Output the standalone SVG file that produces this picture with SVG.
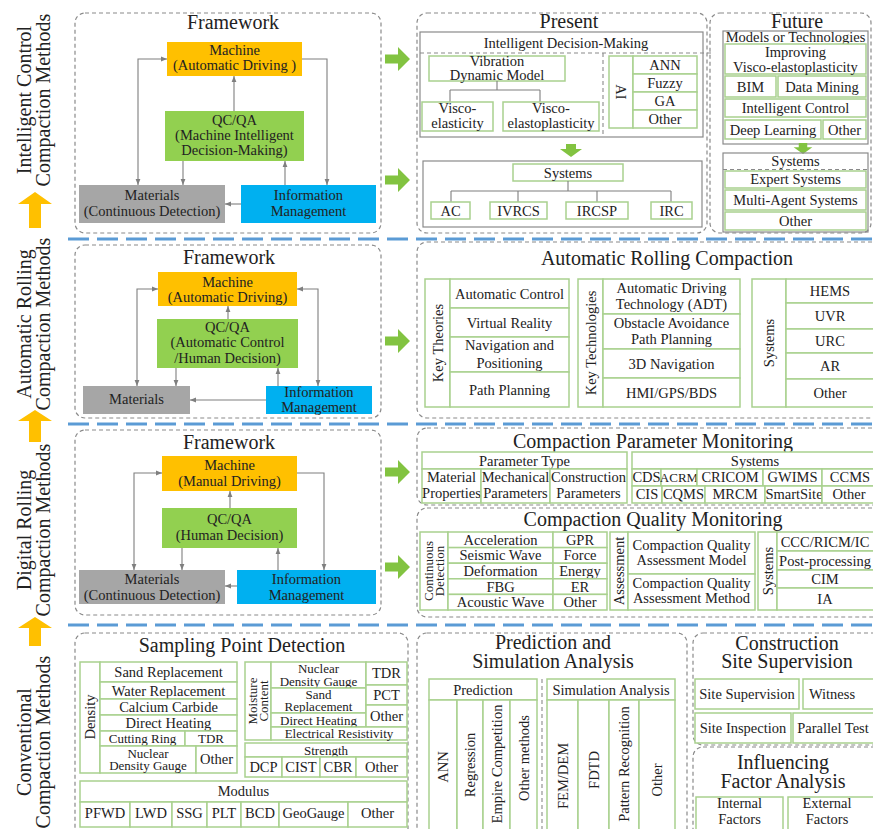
<svg xmlns="http://www.w3.org/2000/svg" width="873" height="829" viewBox="0 0 873 829">
<style>
text{font-family:"Liberation Serif","Times New Roman",serif;font-size:14.5px;fill:#222;text-anchor:middle}
.h{font-size:20px}
.s{font-size:13px}
.db{fill:none;stroke:#8a8a8a;stroke-width:1.2;stroke-dasharray:4 3}
.c{fill:#fff;stroke:#a9d18e;stroke-width:1.5}
.g{fill:none;stroke:#8a8a8a;stroke-width:1.2}
.dl{fill:none;stroke:#8a8a8a;stroke-width:1.1;stroke-dasharray:4 3}
.cn{fill:none;stroke:#7f7f7f;stroke-width:1.1}
.sep{fill:none;stroke:#5b9bd5;stroke-width:3;stroke-dasharray:21 8}
.mach{fill:#ffc000}.qc{fill:#92d050}.mat{fill:#a6a6a6}.inf{fill:#00b0f0}
.ga{fill:#82c341}.oa{fill:#ffc000}
</style>
<defs>
<marker id="ah" viewBox="0 0 10 10" refX="10" refY="5" markerWidth="6" markerHeight="6" markerUnits="userSpaceOnUse" orient="auto-start-reverse"><path d="M0,1 L10,5 L0,9 Z" fill="#7f7f7f"/></marker>
<path id="gar" d="M0,-4.5 H13 V-12 L25,0 L13,12 V4.5 H0 Z"/>
<path id="gad" d="M-5,0 H5 V5 H11 L0,13 L-11,5 H-5 Z"/>
</defs>
<rect width="873" height="829" fill="#fff"/>

<g id="separators">
<path class="sep" d="M68,239 H873 M68,424 H873 M68,625 H873"/>
</g>

<g id="side-labels">
<text class="h" transform="translate(0,100) rotate(-90)"><tspan x="0" y="31">Intelligent Control</tspan><tspan x="0" y="49.5">Compaction Methods</tspan></text>
<path class="oa" d="M35,192 L52,204 H41 V228 H29 V204 H18 Z"/>
<text class="h" transform="translate(0,324) rotate(-90)"><tspan x="0" y="31">Automatic Rolling</tspan><tspan x="0" y="49.5">Compaction Methods</tspan></text>
<path class="oa" d="M35,410 L52,421 H41 V442 H29 V421 H18 Z"/>
<text class="h" transform="translate(0,530) rotate(-90)"><tspan x="0" y="31">Digital Rolling</tspan><tspan x="0" y="49.5">Compaction Methods</tspan></text>
<path class="oa" d="M35,617 L52,628 H41 V646 H29 V628 H18 Z"/>
<text class="h" transform="translate(0,742) rotate(-90)"><tspan x="0" y="31">Conventional</tspan><tspan x="0" y="49.5">Compaction Methods</tspan></text>
</g>

<g id="fw1">
<rect class="db" x="75" y="13" width="306" height="220" rx="10"/>
<text class="h" x="233" y="29">Framework</text>
</g>
<g id="fw1-machine"><rect class="mach" x="167" y="42" width="135" height="34"/><text x="234.5" y="55">Machine</text><text x="234.5" y="70">(Automatic Driving )</text></g>
<g id="fw1-qc"><rect class="qc" x="165" y="111" width="139" height="50"/><text x="234.5" y="125">QC/QA</text><text x="234.5" y="140">(Machine Intelligent</text><text x="234.5" y="155">Decision-Making)</text></g>
<g id="fw1-mat"><rect class="mat" x="79" y="185" width="146" height="38"/><text x="152" y="200">Materials</text><text x="152" y="216">(Continuous Detection)</text></g>
<g id="fw1-info"><rect class="inf" x="241" y="185" width="135" height="38"/><text x="308.5" y="200">Information</text><text x="308.5" y="216">Management</text></g>
<g id="fw1-connectors">
<path class="cn" d="M138,185 V59 H167" marker-start="url(#ah)" marker-end="url(#ah)"/>
<path class="cn" d="M302,59 H327 V185" marker-end="url(#ah)"/>
<path class="cn" d="M234,111 V76" marker-end="url(#ah)"/>
<path class="cn" d="M183,161 V185" marker-end="url(#ah)"/>
<path class="cn" d="M285,185 V161" marker-end="url(#ah)"/>
<path class="cn" d="M241,204 H225" marker-end="url(#ah)"/>
</g>
<g id="green-arrows" class="ga">
<use href="#gar" x="385" y="59"/>
<use href="#gar" x="385" y="180"/>
<use href="#gar" x="385" y="341"/>
<use href="#gar" x="385" y="472"/>
<use href="#gar" x="385" y="567"/>
</g>

<g id="present">
<rect class="db" x="417" y="13" width="290" height="220" rx="10"/>
<text class="h" x="569" y="28">Present</text>
<rect class="g" x="420" y="32" width="283" height="105"/>
<text x="566" y="48">Intelligent Decision-Making</text>
<path class="dl" d="M420,53 H712 M603,53 V137"/>
<rect class="c" x="429" y="56" width="136" height="25"/>
<text x="497" y="66">Vibration</text><text x="497" y="80">Dynamic Model</text>
<path class="cn" d="M497,81 V90 M450,90 H540 M450,90 V102 M540,90 V102"/>
<rect class="c" x="422" y="102" width="71" height="29"/>
<text x="457.5" y="113">Visco-</text><text x="457.5" y="128">elasticity</text>
<rect class="c" x="503" y="102" width="96" height="29"/>
<text x="551" y="113">Visco-</text><text x="551" y="128">elastoplasticity</text>
<rect class="c" x="609" y="56" width="24" height="72"/>
<text transform="translate(621,92) rotate(90)" x="0" y="5">AI</text>
<rect class="c" x="633" y="56" width="64" height="18"/><text x="665" y="70">ANN</text>
<rect class="c" x="633" y="74" width="64" height="18"/><text x="665" y="88">Fuzzy</text>
<rect class="c" x="633" y="92" width="64" height="18"/><text x="665" y="106">GA</text>
<rect class="c" x="633" y="110" width="64" height="18"/><text x="665" y="124">Other</text>
<use href="#gad" x="571" y="144" class="ga"/>
<rect class="g" x="423" y="161" width="279" height="66"/>
<rect class="c" x="513" y="164" width="110" height="17"/><text x="568" y="177.5">Systems</text>
<path class="cn" d="M568,181 V191 M451,191 H671 M451,191 V202 M518,191 V202 M597,191 V202 M671,191 V202"/>
<rect class="c" x="431" y="202" width="39" height="17"/><text x="450.5" y="215.5">AC</text>
<rect class="c" x="490" y="202" width="57" height="17"/><text x="518.5" y="215.5">IVRCS</text>
<rect class="c" x="566" y="202" width="62" height="17"/><text x="597" y="215.5">IRCSP</text>
<rect class="c" x="651" y="202" width="41" height="17"/><text x="671.5" y="215.5">IRC</text>
</g>

<g id="future">
<rect class="db" x="710" y="13" width="161" height="220" rx="10"/>
<text class="h" x="797" y="28">Future</text>
<rect class="g" x="723" y="31" width="145" height="113"/>
<text x="795.5" y="41.5">Models or Technologies</text>
<rect class="c" x="725" y="44" width="141" height="30"/>
<text x="795.5" y="57">Improving</text><text x="795.5" y="71.5">Visco-elastoplasticity</text>
<rect class="c" x="725" y="76" width="51" height="21"/><text x="750.5" y="91.5">BIM</text>
<rect class="c" x="778" y="76" width="88" height="21"/><text x="822" y="91.5">Data Mining</text>
<rect class="c" x="725" y="99" width="141" height="18"/><text x="795.5" y="112.5">Intelligent Control</text>
<rect class="c" x="725" y="120" width="96" height="19"/><text x="773" y="134.5">Deep Learning</text>
<rect class="c" x="823" y="120" width="43" height="19"/><text x="844.5" y="134.5">Other</text>
<use href="#gad" x="803" y="143" class="ga" transform="translate(803,143) scale(0.85) translate(-803,-143)"/>
<rect class="g" x="723" y="153" width="145" height="79"/>
<text x="795.5" y="166">Systems</text>
<path class="dl" d="M723,169.5 H868"/>
<rect class="c" x="725" y="171" width="141" height="17"/><text x="795.5" y="184">Expert Systems</text>
<rect class="c" x="725" y="190" width="141" height="20"/><text x="795.5" y="205">Multi-Agent Systems</text>
<rect class="c" x="725" y="212" width="141" height="18"/><text x="795.5" y="226">Other</text>
</g>

<g id="fw2">
<rect class="db" x="75" y="245" width="306" height="173" rx="10"/>
<text class="h" x="229" y="264">Framework</text>
</g>
<g id="fw2-machine"><rect class="mach" x="158" y="272" width="139" height="34"/><text x="227.5" y="287">Machine</text><text x="227.5" y="302">(Automatic Driving)</text></g>
<g id="fw2-qc"><rect class="qc" x="157" y="319" width="141" height="49"/><text x="227.5" y="332">QC/QA</text><text x="227.5" y="347">(Automatic Control</text><text x="227.5" y="363">/Human Decision)</text></g>
<g id="fw2-mat"><rect class="mat" x="83" y="386" width="107" height="28"/><text x="136.5" y="404">Materials</text></g>
<g id="fw2-info"><rect class="inf" x="266" y="386" width="106" height="28"/><text x="319" y="397">Information</text><text x="319" y="411.5">Management</text></g>
<g id="fw2-connectors">
<path class="cn" d="M137,386 V289 H158" marker-start="url(#ah)" marker-end="url(#ah)"/>
<path class="cn" d="M297,289 H318 V386" marker-start="url(#ah)" marker-end="url(#ah)"/>
<path class="cn" d="M228,319 V306" marker-end="url(#ah)"/>
<path class="cn" d="M176,368 V386" marker-end="url(#ah)"/>
<path class="cn" d="M278,386 V368" marker-end="url(#ah)"/>
<path class="cn" d="M266,400 H190" marker-end="url(#ah)"/>
</g>

<g id="arc">
<rect class="db" x="417" y="242" width="470" height="176" rx="10"/>
<text class="h" x="667" y="265">Automatic Rolling Compaction</text>
<rect class="c" x="425" y="279" width="25" height="128"/>
<text transform="translate(437.5,343) rotate(-90)" x="0" y="5">Key Theories</text>
<rect class="c" x="450" y="279" width="119" height="29"/><text x="509.5" y="298.5">Automatic Control</text>
<rect class="c" x="450" y="308" width="119" height="29"/><text x="509.5" y="327.5">Virtual Reality</text>
<rect class="c" x="450" y="337" width="119" height="35"/><text x="509.5" y="350">Navigation and</text><text x="509.5" y="368">Positioning</text>
<rect class="c" x="450" y="372" width="119" height="35"/><text x="509.5" y="394.5">Path Planning</text>
<rect class="c" x="578" y="279" width="25" height="128"/>
<text transform="translate(590.5,343) rotate(-90)" x="0" y="5">Key Technologies</text>
<rect class="c" x="603" y="279" width="137" height="35"/><text x="671.5" y="293">Automatic Driving</text><text x="671.5" y="308.5">Technology (ADT)</text>
<rect class="c" x="603" y="314" width="137" height="35"/><text x="671.5" y="328">Obstacle Avoidance</text><text x="671.5" y="343.5">Path Planning</text>
<rect class="c" x="603" y="349" width="137" height="29"/><text x="671.5" y="368.5">3D Navigation</text>
<rect class="c" x="603" y="378" width="137" height="29"/><text x="671.5" y="397.5">HMI/GPS/BDS</text>
<rect class="c" x="752" y="279" width="34" height="128"/>
<text transform="translate(769,343) rotate(-90)" x="0" y="5">Systems</text>
<rect class="c" x="786" y="279" width="100" height="24"/><text x="830" y="296">HEMS</text>
<rect class="c" x="786" y="303" width="100" height="26"/><text x="830" y="321">UVR</text>
<rect class="c" x="786" y="329" width="100" height="24"/><text x="830" y="346">URC</text>
<rect class="c" x="786" y="353" width="100" height="26"/><text x="830" y="371">AR</text>
<rect class="c" x="786" y="379" width="100" height="28"/><text x="830" y="398">Other</text>
</g>

<g id="fw3">
<rect class="db" x="75" y="430" width="306" height="185" rx="10"/>
<text class="h" x="229" y="449">Framework</text>
</g>
<g id="fw3-machine"><rect class="mach" x="162" y="456" width="135" height="35"/><text x="229.5" y="470">Machine</text><text x="229.5" y="486">(Manual Driving)</text></g>
<g id="fw3-qc"><rect class="qc" x="162" y="508" width="135" height="40"/><text x="229.5" y="524">QC/QA</text><text x="229.5" y="540">(Human Decision)</text></g>
<g id="fw3-mat"><rect class="mat" x="79" y="570" width="146" height="34"/><text x="152" y="584">Materials</text><text x="152" y="600">(Continuous Detection)</text></g>
<g id="fw3-info"><rect class="inf" x="237" y="570" width="139" height="34"/><text x="306.5" y="584">Information</text><text x="306.5" y="600">Management</text></g>
<g id="fw3-connectors">
<path class="cn" d="M134,570 V473 H162" marker-start="url(#ah)" marker-end="url(#ah)"/>
<path class="cn" d="M297,473 H324 V570" marker-end="url(#ah)"/>
<path class="cn" d="M230,508 V491" marker-end="url(#ah)"/>
<path class="cn" d="M182,548 V570" marker-end="url(#ah)"/>
<path class="cn" d="M278,570 V548" marker-end="url(#ah)"/>
<path class="cn" d="M237,586 H225" marker-end="url(#ah)"/>
</g>

<g id="cpm">
<rect class="db" x="417" y="428" width="470" height="77" rx="10"/>
<text class="h" x="653" y="448">Compaction Parameter Monitoring</text>
<rect class="c" x="422" y="452" width="205" height="17"/><text x="524.5" y="465.5">Parameter Type</text>
<rect class="c" x="422" y="469" width="59" height="34"/><text x="451.5" y="482">Material</text><text x="451.5" y="498">Properties</text>
<rect class="c" x="481" y="469" width="69" height="34"/><text x="515.5" y="482">Mechanical</text><text x="515.5" y="498">Parameters</text>
<rect class="c" x="550" y="469" width="77" height="34"/><text x="588.5" y="482">Construction</text><text x="588.5" y="498">Parameters</text>
<rect class="c" x="632" y="452" width="254" height="17"/><text x="755" y="465.5">Systems</text>
<rect class="c" x="632" y="469" width="29" height="17"/><text x="646.5" y="482">CDS</text>
<rect class="c" x="661" y="469" width="36" height="17"/><text class="s" x="679" y="482">ACRM</text>
<rect class="c" x="697" y="469" width="66" height="17"/><text x="730" y="482">CRICOM</text>
<rect class="c" x="763" y="469" width="59" height="17"/><text x="792.5" y="482">GWIMS</text>
<rect class="c" x="822" y="469" width="64" height="17"/><text x="850" y="482">CCMS</text>
<rect class="c" x="632" y="486" width="30" height="17"/><text x="647" y="499">CIS</text>
<rect class="c" x="662" y="486" width="43" height="17"/><text x="683.5" y="499">CQMS</text>
<rect class="c" x="705" y="486" width="60" height="17"/><text x="735" y="499">MRCM</text>
<rect class="c" x="765" y="486" width="57" height="17"/><text x="794" y="499">SmartSite</text>
<rect class="c" x="822" y="486" width="64" height="17"/><text x="849" y="499">Other</text>
</g>

<g id="cqm">
<rect class="db" x="417" y="508" width="470" height="109" rx="10"/>
<text class="h" x="653" y="526">Compaction Quality Monitoring</text>
<rect class="c" x="420" y="532" width="28" height="78"/>
<text class="s" transform="translate(434,571) rotate(-90)"><tspan x="0" y="-1.5">Continuous</tspan><tspan x="0" y="10">Detection</tspan></text>
<rect class="c" x="448" y="532" width="105" height="15.6"/><text x="500.5" y="544.8">Acceleration</text>
<rect class="c" x="448" y="547.6" width="105" height="15.6"/><text x="500.5" y="560.4">Seismic Wave</text>
<rect class="c" x="448" y="563.2" width="105" height="15.6"/><text x="500.5" y="576">Deformation</text>
<rect class="c" x="448" y="578.8" width="105" height="15.6"/><text x="500.5" y="591.6">FBG</text>
<rect class="c" x="448" y="594.4" width="105" height="15.6"/><text x="500.5" y="607.2">Acoustic Wave</text>
<rect class="c" x="553" y="532" width="54" height="15.6"/><text x="580" y="544.8">GPR</text>
<rect class="c" x="553" y="547.6" width="54" height="15.6"/><text x="580" y="560.4">Force</text>
<rect class="c" x="553" y="563.2" width="54" height="15.6"/><text x="580" y="576">Energy</text>
<rect class="c" x="553" y="578.8" width="54" height="15.6"/><text x="580" y="591.6">ER</text>
<rect class="c" x="553" y="594.4" width="54" height="15.6"/><text x="580" y="607.2">Other</text>
<rect class="c" x="610" y="532" width="18" height="78"/>
<text transform="translate(619,571) rotate(-90)" x="0" y="5">Assessment</text>
<rect class="c" x="628" y="532" width="127" height="42"/><text x="691.5" y="550">Compaction Quality</text><text x="691.5" y="565">Assessment Model</text>
<rect class="c" x="628" y="574" width="127" height="36"/><text x="691.5" y="588">Compaction Quality</text><text x="691.5" y="603">Assessment Method</text>
<rect class="c" x="758" y="532" width="19" height="78"/>
<text transform="translate(767.5,571) rotate(-90)" x="0" y="5">Systems</text>
<rect class="c" x="777" y="532" width="110" height="19"/><text x="825" y="546.5">CCC/RICM/IC</text>
<rect class="c" x="777" y="551" width="110" height="19"/><text x="825" y="565.5">Post-processing</text>
<rect class="c" x="777" y="570" width="110" height="18"/><text x="825" y="584">CIM</text>
<rect class="c" x="777" y="588" width="110" height="22"/><text x="825" y="604">IA</text>
</g>

<g id="spd">
<rect class="db" x="75" y="633" width="333" height="210" rx="10"/>
<text class="h" x="242" y="652">Sampling Point Detection</text>
<rect class="c" x="80" y="662" width="20" height="111"/>
<text transform="translate(90,717) rotate(-90)" x="0" y="5">Density</text>
<rect class="c" x="100" y="662" width="137" height="20"/><text x="168.5" y="677">Sand Replacement</text>
<rect class="c" x="100" y="682" width="137" height="17"/><text x="168.5" y="695.5">Water Replacement</text>
<rect class="c" x="100" y="699" width="137" height="16"/><text x="168.5" y="712">Calcium Carbide</text>
<rect class="c" x="100" y="715" width="137" height="16"/><text x="168.5" y="728">Direct Heating</text>
<rect class="c" x="100" y="731" width="85" height="15"/><text class="s" x="142.5" y="743">Cutting Ring</text>
<rect class="c" x="185" y="731" width="52" height="15"/><text class="s" x="211" y="743">TDR</text>
<rect class="c" x="100" y="746" width="96" height="27"/><text class="s" x="148" y="757.5">Nuclear</text><text class="s" x="148" y="770">Density Gauge</text>
<rect class="c" x="196" y="746" width="41" height="27"/><text x="216.5" y="764">Other</text>
<rect class="c" x="245" y="662" width="26" height="78"/>
<text class="s" transform="translate(258,701) rotate(-90)"><tspan x="0" y="-1">Moisture</tspan><tspan x="0" y="10">Content</tspan></text>
<rect class="c" x="271" y="662" width="95" height="26"/><text class="s" x="318.5" y="673">Nuclear</text><text class="s" x="318.5" y="685.5">Density Gauge</text>
<rect class="c" x="271" y="688" width="95" height="25"/><text class="s" x="318.5" y="698.5">Sand</text><text class="s" x="318.5" y="710.5">Replacement</text>
<rect class="c" x="271" y="713" width="95" height="14"/><text class="s" x="318.5" y="724.5">Direct Heating</text>
<rect class="c" x="366" y="662" width="41" height="23"/><text x="386.5" y="678">TDR</text>
<rect class="c" x="366" y="685" width="41" height="20"/><text x="386.5" y="699.5">PCT</text>
<rect class="c" x="366" y="705" width="41" height="22"/><text x="386.5" y="720.5">Other</text>
<rect class="c" x="271" y="727" width="136" height="13"/><text class="s" x="339" y="738">Electrical Resistivity</text>
<rect class="c" x="245" y="743" width="162" height="14"/><text class="s" x="326" y="754.5">Strength</text>
<rect class="c" x="245" y="757" width="37" height="20"/><text x="263.5" y="772">DCP</text>
<rect class="c" x="282" y="757" width="38" height="20"/><text x="301" y="772">CIST</text>
<rect class="c" x="320" y="757" width="36" height="20"/><text x="338" y="772">CBR</text>
<rect class="c" x="356" y="757" width="51" height="20"/><text x="381.5" y="772">Other</text>
<rect class="c" x="80" y="781" width="327" height="21"/><text x="243.5" y="796">Modulus</text>
<rect class="c" x="80" y="802" width="50" height="25"/><text x="105" y="818">PFWD</text>
<rect class="c" x="130" y="802" width="42" height="25"/><text x="151" y="818">LWD</text>
<rect class="c" x="172" y="802" width="35" height="25"/><text x="189.5" y="818">SSG</text>
<rect class="c" x="207" y="802" width="34" height="25"/><text x="224" y="818">PLT</text>
<rect class="c" x="241" y="802" width="38" height="25"/><text x="260" y="818">BCD</text>
<rect class="c" x="279" y="802" width="69" height="25"/><text x="313.5" y="818">GeoGauge</text>
<rect class="c" x="348" y="802" width="59" height="25"/><text x="377.5" y="818">Other</text>
</g>

<g id="psa">
<rect class="db" x="417" y="633" width="270" height="210" rx="10"/>
<text class="h" x="553" y="649">Prediction and</text>
<text class="h" x="553" y="668">Simulation Analysis</text>
<rect class="c" x="429" y="679" width="108" height="21"/><text x="483" y="694.5">Prediction</text>
<rect class="c" x="429" y="700" width="28" height="140"/>
<rect class="c" x="457" y="700" width="26" height="140"/>
<rect class="c" x="483" y="700" width="27" height="140"/>
<rect class="c" x="510" y="700" width="27" height="140"/>
<text transform="translate(443,767) rotate(-90)" x="0" y="5">ANN</text>
<text transform="translate(470,765) rotate(-90)" x="0" y="5">Regression</text>
<text transform="translate(496.5,764) rotate(-90)" x="0" y="5">Empire Competition</text>
<text transform="translate(523.5,758) rotate(-90)" x="0" y="5">Other methods</text>
<path class="dl" d="M542,679 V829"/>
<rect class="c" x="547" y="679" width="128" height="21"/><text x="611" y="694.5">Simulation Analysis</text>
<rect class="c" x="547" y="700" width="31" height="140"/>
<rect class="c" x="578" y="700" width="31" height="140"/>
<rect class="c" x="609" y="700" width="30" height="140"/>
<rect class="c" x="639" y="700" width="36" height="140"/>
<text transform="translate(562.5,776) rotate(-90)" x="0" y="5">FEM/DEM</text>
<text transform="translate(593.5,770) rotate(-90)" x="0" y="5">FDTD</text>
<text transform="translate(624,764) rotate(-90)" x="0" y="5">Pattern Recognition</text>
<text transform="translate(657,780) rotate(-90)" x="0" y="5">Other</text>
</g>

<g id="css">
<rect class="db" x="693" y="633" width="192" height="112" rx="10"/>
<text class="h" x="787" y="650">Construction</text>
<text class="h" x="787" y="668">Site Supervision</text>
<rect class="c" x="695" y="679" width="104" height="30"/><text x="747" y="699">Site Supervision</text>
<rect class="c" x="803" y="679" width="80" height="30"/><text x="832" y="699">Witness</text>
<rect class="c" x="695" y="713" width="96" height="30"/><text x="743" y="733">Site Inspection</text>
<rect class="c" x="793" y="713" width="90" height="30"/><text x="833" y="733">Parallel Test</text>
</g>

<g id="ifa">
<rect class="db" x="693" y="747" width="192" height="100" rx="10"/>
<text class="h" x="783" y="769">Influencing</text>
<text class="h" x="783" y="788">Factor Analysis</text>
<rect class="c" x="696" y="797" width="87" height="40"/><text x="739.5" y="808">Internal</text><text x="739.5" y="824">Factors</text>
<rect class="c" x="788" y="797" width="95" height="40"/><text x="827" y="808">External</text><text x="827" y="824">Factors</text>
</g>
</svg>
